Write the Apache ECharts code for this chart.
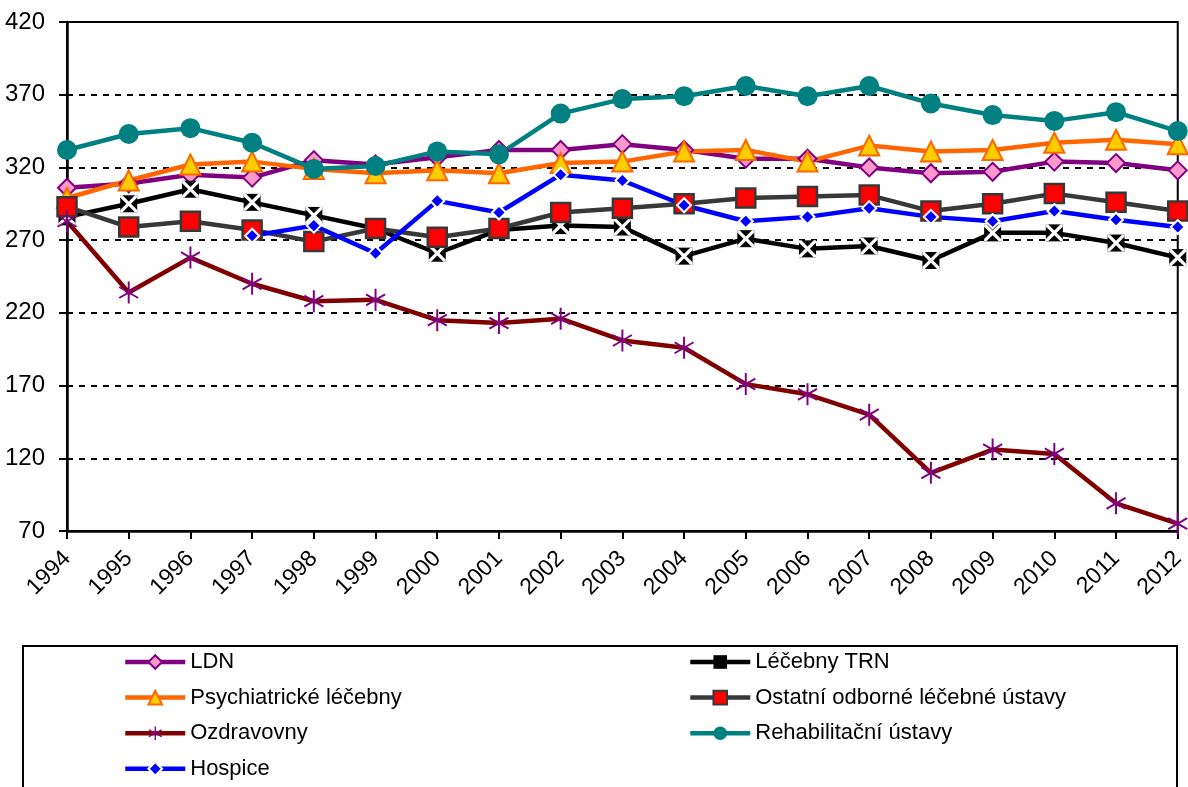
<!DOCTYPE html>
<html>
<head>
<meta charset="utf-8">
<title>Lůžková zařízení 1994–2012</title>
<script src="https://cdn.jsdelivr.net/npm/echarts@6/dist/echarts.min.js"></script>
<style>
  html, body { margin: 0; padding: 0; background: #fff; }
  #chart { width: 1188px; height: 787px; }
</style>
</head>
<body>
<div id="chart"></div>
<script>
// roky na ose x
var years = ['1994', '1995', '1996', '1997', '1998', '1999', '2000', '2001', '2002', '2003',
             '2004', '2005', '2006', '2007', '2008', '2009', '2010', '2011', '2012'];

// hodnoty
var ldn        = [306, 309, 315, 313, 325, 322, 327, 332, 332, 336, 332, 326, 326, 320, 316, 317, 324, 323, 318];
var trn        = [286, 295, 305, 296, 287, 278, 261, 277, 280, 279, 259, 271, 264, 266, 256, 275, 275, 268, 258];
var psych      = [299, 311, 322, 324, 319, 316, 318, 316, 323, 324, 331, 332, 324, 335, 331, 332, 337, 339, 336];
var ostatni    = [293, 279, 283, 277, 269, 278, 272, 278, 289, 292, 295, 299, 300, 301, 290, 295, 302, 296, 290];
var ozdravovny = [283, 234, 258, 240, 228, 229, 215, 213, 216, 201, 196, 171, 164, 150, 110, 126, 123, 89, 75];
var rehab      = [332, 343, 347, 337, 319, 321, 331, 329, 357, 367, 369, 376, 369, 376, 364, 356, 352, 358, 345];
var hospice    = ['-', '-', '-', 273, 280, 261, 297, 289, 315, 311, 294, 283, 286, 292, 286, 283, 290, 284, 279];

// osa y
var yMin = 70, yMax = 420, yStep = 50;

var FONT = '"Liberation Sans Narrow", "Liberation Sans", Arial, sans-serif';

// hvězdička (svislá čára + dvě úhlopříčky)
var asterisk = 'path://M9.1 0L10.9 0L10.9 20L9.1 20Z' +
  'M0.89 5.78L1.79 4.22L19.11 14.22L18.21 15.78Z' +
  'M1.79 15.78L0.89 14.22L18.21 4.22L19.11 5.78Z';
// bílý křížek přes černý čtvereček
var crossX = 'path://M0 0L2.7 0L10 7.3L17.3 0L20 0L20 2.7L12.7 10L20 17.3L20 20L17.3 20L10 12.7L2.7 20L0 20L0 17.3L7.3 10L0 2.7Z';

function lineSeries(name, data, lineColor, symbol, size, fill, border, borderW) {
  return {
    name: name,
    type: 'line',
    data: data,
    symbol: symbol,
    symbolSize: size,
    showAllSymbol: true,
    connectNulls: false,
    lineStyle: { color: lineColor, width: 4.5 },
    itemStyle: { color: fill, borderColor: border, borderWidth: borderW },
    emphasis: { disabled: true },
    animation: false
  };
}

var legendBase = {
  orient: 'vertical', top: 646, height: 400, padding: 5,
  itemWidth: 60, itemHeight: 17, itemGap: 13.6,
  lineStyle: { width: 4.5 },
  textStyle: { color: '#000', fontFamily: FONT, fontSize: 22 },
  selectedMode: false
};

var chart = echarts.init(document.getElementById('chart'), null, { renderer: 'canvas' });

chart.setOption({
  backgroundColor: '#fff',
  animation: false,
  grid: {
    left: 67, right: 4, top: 22, bottom: 256,
    show: true, borderColor: '#000', borderWidth: 2, backgroundColor: 'transparent'
  },
  xAxis: {
    type: 'category',
    data: years,
    boundaryGap: false,
    axisLine: { lineStyle: { color: '#000', width: 2.5 } },
    axisTick: { show: true, inside: false, length: 8, alignWithLabel: true, lineStyle: { color: '#000', width: 2 } },
    axisLabel: {
      rotate: 45, margin: 24, interval: 0,
      color: '#000', fontFamily: FONT, fontSize: 23
    },
    splitLine: { show: false }
  },
  yAxis: {
    type: 'value',
    min: yMin, max: yMax, interval: yStep,
    axisLine: { show: true, lineStyle: { color: '#000', width: 2.5 } },
    axisTick: { show: true, length: 8, lineStyle: { color: '#000', width: 2 } },
    axisLabel: { color: '#000', fontFamily: FONT, fontSize: 24, margin: 22 },
    splitLine: {
      show: true,
      lineStyle: { color: '#000', width: 2, type: [6, 6] }
    }
  },
  legend: [
    Object.assign({}, legendBase, {
      data: ['LDN', 'Psychiatrické léčebny', 'Ozdravovny', 'Hospice'],
      left: 118
    }),
    Object.assign({}, legendBase, {
      data: ['Léčebny TRN', 'Ostatní odborné léčebné ústavy', 'Rehabilitační ústavy'],
      left: 683
    })
  ],
  graphic: [
    {
      type: 'rect', left: 22, top: 645, z: -1, silent: true,
      shape: { width: 1154, height: 160 },
      style: { fill: '#fff', stroke: '#000', lineWidth: 2 }
    }
  ],
  series: [
    lineSeries('LDN', ldn, '#800080', 'diamond', 18, '#FF99CC', '#800080', 2),
    lineSeries('Léčebny TRN', trn, '#000000', 'rect', 17, '#000000', '#000000', 0),
    {
      name: 'trn-x', type: 'line', data: trn,
      symbol: crossX, symbolSize: 17, showAllSymbol: true,
      lineStyle: { width: 0, opacity: 0 },
      itemStyle: { color: '#fff' },
      emphasis: { disabled: true }, animation: false
    },
    lineSeries('Psychiatrické léčebny', psych, '#FF6600', 'triangle', 20, '#FFCC00', '#FF6600', 2),
    lineSeries('Ostatní odborné léčebné ústavy', ostatni, '#383838', 'rect', 19, '#FF0000', '#383838', 2.5),
    lineSeries('Ozdravovny', ozdravovny, '#800000', asterisk, [20, 22], '#800080', '#800080', 0),
    lineSeries('Rehabilitační ústavy', rehab, '#008080', 'circle', 20, '#008080', '#008080', 0),
    lineSeries('Hospice', hospice, '#0000FF', 'diamond', 14, '#0000FF', '#ffffff', 2)
  ]
});
</script>
</body>
</html>
